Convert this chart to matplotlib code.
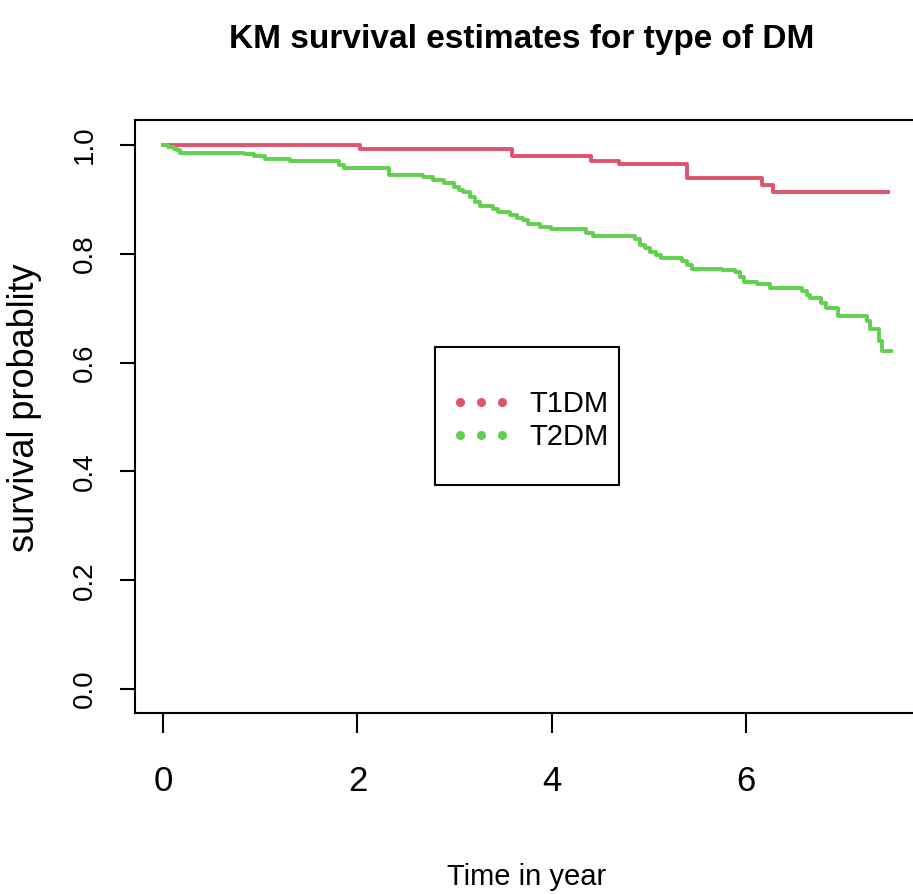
import matplotlib
matplotlib.use("Agg")
from matplotlib import pyplot as plt
from matplotlib.lines import Line2D
from matplotlib.patches import Rectangle

# Kaplan-Meier step values (time in years, survival)
t1dm_time = [0.0, 2.03, 3.59, 4.40, 4.69, 5.39, 6.16, 6.28, 7.46]
t1dm_surv = [1.000, 0.992, 0.979, 0.970, 0.966, 0.940, 0.927, 0.914, 0.914]

t2dm_time = [0.0, 0.05, 0.11, 0.14, 0.17, 0.83, 0.93, 1.05, 1.31, 1.81,
             1.86, 2.32, 2.68, 2.78, 2.89, 2.99, 3.05, 3.09, 3.16, 3.21,
             3.26, 3.40, 3.45, 3.57, 3.64, 3.70, 3.76, 3.88, 3.99, 4.35,
             4.43, 4.86, 4.91, 4.96, 5.01, 5.07, 5.12, 5.34, 5.39, 5.44,
             5.75, 5.89, 5.94, 5.98, 6.11, 6.25, 6.58, 6.63, 6.66, 6.77,
             6.82, 6.95, 7.25, 7.28, 7.37, 7.40, 7.49]
t2dm_surv = [1.000, 0.997, 0.993, 0.990, 0.986, 0.983, 0.979, 0.975, 0.970, 0.963,
             0.958, 0.944, 0.941, 0.935, 0.930, 0.923, 0.918, 0.914, 0.905, 0.896,
             0.888, 0.882, 0.876, 0.871, 0.865, 0.862, 0.854, 0.850, 0.845, 0.838,
             0.832, 0.827, 0.816, 0.810, 0.804, 0.798, 0.792, 0.787, 0.780, 0.773,
             0.770, 0.767, 0.758, 0.749, 0.744, 0.737, 0.732, 0.725, 0.718, 0.709,
             0.700, 0.685, 0.676, 0.662, 0.639, 0.621, 0.621]

groups = ['T1DM', 'T2DM']
colors = ['#DF536B', '#61D04F']
x_ticks = [0, 2, 4, 6]
y_ticks = [0.0, 0.2, 0.4, 0.6, 0.8, 1.0]

font = ['Liberation Sans', 'DejaVu Sans']

W, H = 913, 894
fig = plt.figure(figsize=(W / 100, H / 100), dpi=100)
# plot box in pixels: left 135, right 915 (just off canvas), top 120, bottom 713
ax = fig.add_axes([135 / W, (H - 713) / H, 780 / W, 593 / H])

ax.step(t1dm_time, t1dm_surv, where='post', color=colors[0], lw=2.8)
ax.step(t2dm_time, t2dm_surv, where='post', color=colors[1], lw=2.8)

ax.set_xlim(-0.29, 7.74)
ax.set_ylim(-0.044, 1.046)

for s in ax.spines.values():
    s.set_linewidth(1.5)

ax.set_xticks(x_ticks)
ax.set_xticklabels([str(v) for v in x_ticks], family=font, fontsize=25)
ax.tick_params(axis='x', length=14.5, width=1.5, pad=23)

ax.set_yticks(y_ticks)
ax.set_yticklabels(['%.1f' % v for v in y_ticks], family=font, fontsize=20,
                   rotation=90, va='center', ha='right')
ax.tick_params(axis='y', length=11, width=1.5, pad=16)

# titles
fig.text(522 / W, 1 - 48 / H, 'KM survival estimates for type of DM',
         family=font, fontsize=24, fontweight='bold', ha='center', va='baseline')
fig.text(527 / W, 1 - 885 / H, 'Time in year', family=font, fontsize=21,
         ha='center', va='baseline')
fig.text(24 / W, 1 - 408 / H, 'survival probablity', family=font, fontsize=26,
         rotation=90, ha='center', va='center')

# legend: dotted handles, framed box
handles = [Line2D([], [], ls='none', marker='o', markersize=5.5, color=c) for c in colors]
leg = ax.legend(handles, groups, loc='center', bbox_to_anchor=(0.506, 0.493),
                frameon=False, numpoints=3, handlelength=2.06, handletextpad=0.62,
                borderpad=0, labelspacing=0.17, prop={'family': font, 'size': 21})
ax.add_patch(Rectangle((0.3846, 0.3845), 0.2359, 0.2327, transform=ax.transAxes,
                       fill=False, lw=1.5, ec='black', zorder=5))

fig.savefig('out.png', dpi=100)
